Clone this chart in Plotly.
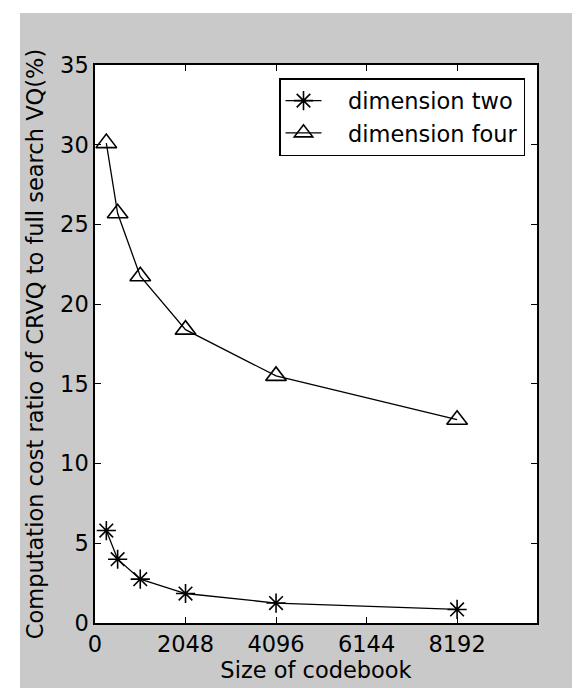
import plotly.graph_objects as go

codebook_sizes = [256, 512, 1024, 2048, 4096, 8192]
dim_two = [5.8, 4.0, 2.75, 1.85, 1.25, 0.85]
dim_four = [30.1, 25.7, 21.75, 18.4, 15.5, 12.75]
x_ticks = [0, 2048, 4096, 6144, 8192]
y_ticks = [0, 5, 10, 15, 20, 25, 30, 35]

FONT = "DejaVu Sans, Verdana, sans-serif"
GRAY = "#c9c9c9"
NB = "\u00a0"
FS = 22.5

fig = go.Figure()
fig.add_trace(go.Scatter(
    x=codebook_sizes, y=dim_two, mode="lines+markers", name=NB * 3 + "dimension two",
    line=dict(color="black", width=1.3),
    marker=dict(symbol="asterisk-open", size=16, color="black",
                line=dict(color="black", width=1.6)),
))
fig.add_trace(go.Scatter(
    x=codebook_sizes, y=dim_four, mode="lines+markers", name=NB * 3 + "dimension four",
    line=dict(color="black", width=1.3),
    marker=dict(symbol="triangle-up-open", size=18, color="black",
                line=dict(color="black", width=1.6)),
))

L, R, T, B = 87, 51, 57, 73
W, H = 580, 688
pw, ph = W - L - R, H - T - B

def px(x):
    return (x - L) / pw

def py(y):
    return 1 - (y - T) / ph

axis_common = dict(
    showline=True, linecolor="black", linewidth=1.5, mirror="ticks",
    ticks="inside", ticklen=6, tickwidth=1.2, tickcolor="black",
    showgrid=False, zeroline=False, automargin=False,
    tickfont=dict(family=FONT, size=FS, color="black"),
    title_font=dict(family=FONT, size=FS, color="black"),
)

fig.update_layout(
    width=W, height=H,
    margin=dict(l=L, r=R, t=T, b=B),
    paper_bgcolor=GRAY, plot_bgcolor="white",
    font=dict(family=FONT, size=FS, color="black"),
    showlegend=True,
    legend=dict(
        x=px(517), xanchor="right", y=py(70), yanchor="top",
        bgcolor="white", bordercolor="black", borderwidth=1.5,
        font=dict(family=FONT, size=FS, color="black"),
        tracegroupgap=0, itemwidth=36,
    ),
    xaxis=dict(range=[0, 10000], tickvals=x_ticks,
               ticktext=[str(v) for v in x_ticks],
               title=dict(text="Size of codebook", standoff=6), **axis_common),
    yaxis=dict(range=[0, 35], tickvals=y_ticks,
               ticktext=[str(v) for v in y_ticks],
               title=dict(text="Computation cost ratio of CRVQ to full search VQ(%)", standoff=10),
               **axis_common),
    shapes=[
        dict(type="rect", xref="paper", yref="paper", x0=px(0), x1=px(12), y0=py(H), y1=py(0),
             fillcolor="white", line=dict(width=0), layer="below"),
        dict(type="rect", xref="paper", yref="paper", x0=px(0), x1=px(W), y0=py(5), y1=py(0),
             fillcolor="white", line=dict(width=0), layer="below"),
    ],
)

fig.write_html("out.html")
